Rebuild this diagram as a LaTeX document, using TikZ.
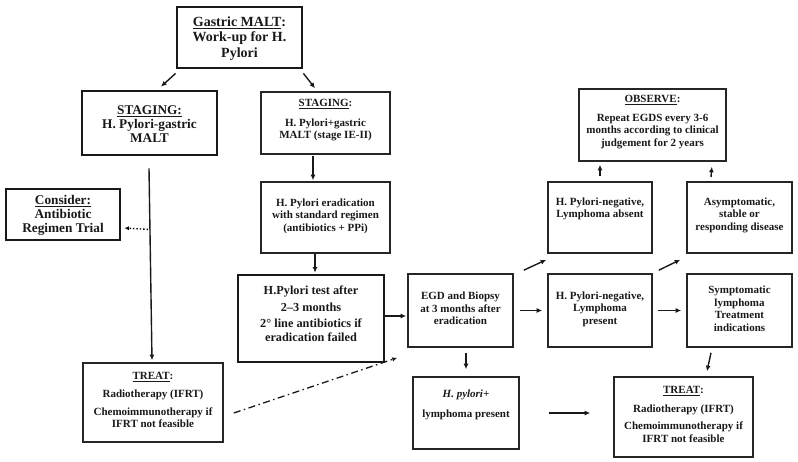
\documentclass[tikz,border=0pt]{standalone}
\usepackage{fontspec}
\setmainfont{Liberation Serif}
\usetikzlibrary{arrows.meta,calc}
\begin{document}
\begin{tikzpicture}[x=1pt,y=-1pt,
  thinbox/.style={draw=black!85, line width=1.6pt, inner sep=0pt},
  thickbox/.style={draw=black!90, line width=2.8pt, inner sep=0pt},
  txt/.style={align=center, inner sep=0pt, text=black!90},
  fbig/.style={font=\fontsize{14}{15.5}\selectfont\bfseries},
  fmid/.style={font=\fontsize{13.3}{14}\selectfont\bfseries},
  ftest/.style={font=\fontsize{12.3}{16.5}\selectfont\bfseries},
  fsmall/.style={font=\fontsize{11}{12.5}\selectfont\bfseries},
  arr/.style={line width=1.4pt, draw=black!90, -{Latex[length=5.5pt,width=5pt]}},
  ]
\useasboundingbox (0,0) rectangle (798,462);
% boxes
\node[thickbox, minimum width=125pt, minimum height=61pt] (g) at (239.5,37.5) {};
\node[thickbox, minimum width=135pt, minimum height=64pt] (sl) at (149.5,123) {};
\node[thinbox, minimum width=129pt, minimum height=62pt] (sr) at (325.5,123) {};
\node[thickbox, minimum width=114pt, minimum height=51pt] (co) at (63,214.5) {};
\node[thinbox, minimum width=129pt, minimum height=71pt] (er) at (325.5,217.5) {};
\node[thinbox, minimum width=140pt, minimum height=79pt] (tl) at (153,402.5) {};
\node[thickbox, minimum width=146pt, minimum height=87pt] (ht) at (311,318.5) {};
\node[thinbox, minimum width=105pt, minimum height=73pt] (egd) at (460.5,310.5) {};
\node[thinbox, minimum width=104pt, minimum height=71pt] (na) at (600,217.5) {};
\node[thinbox, minimum width=105pt, minimum height=71pt] (as) at (739.5,217.5) {};
\node[thinbox, minimum width=147pt, minimum height=72pt] (ob) at (652.5,125) {};
\node[thinbox, minimum width=104pt, minimum height=73pt] (lp) at (600,310.5) {};
\node[thinbox, minimum width=105pt, minimum height=73pt] (sy) at (739.5,310.5) {};
\node[thinbox, minimum width=106pt, minimum height=72pt] (hp) at (466,413) {};
\node[thinbox, minimum width=139pt, minimum height=80pt] (tr) at (683.5,417) {};
% texts
\node[txt, fbig] (gt) at (239.5,38.5) {\underline{Gastric MALT}:\\Work-up for H.\\Pylori};
\node[txt, fmid] (slt) at (149.5,124.5) {\underline{STAGING:}\\H. Pylori-gastric\\MALT};
\node[txt, fmid] (cot) at (63,215.5) {\underline{Consider:}\\Antibiotic\\Regimen Trial};
\node[txt, fsmall] (srt) at (325.5,120.5) {\underline{STAGING}:\\[7pt]H. Pylori+gastric\\MALT (stage IE-II)};
\node[txt, fsmall] (ert) at (325.5,216) {H. Pylori eradication\\with standard regimen\\(antibiotics + PPi)};
\node[txt, ftest] (htt) at (311,313.5) {H.Pylori test after\\2–3 months\\2° line antibiotics if\\[-3pt]eradication failed};
\node[txt, fsmall] (tlt) at (153,400) {\underline{TREAT}:\\[6pt]Radiotherapy (IFRT)\\[5pt]Chemoimmunotherapy if\\IFRT not feasible};
\node[txt, fsmall] (egdt) at (460.5,308.5) {EGD and Biopsy\\at 3 months after\\eradication};
\node[txt, fsmall] (nat) at (600,209) {H. Pylori-negative,\\Lymphoma absent};
\node[txt, fsmall] (ast) at (739.5,215) {Asymptomatic,\\stable or\\responding disease};
\node[txt, fsmall] (obt) at (652.5,122) {\underline{OBSERVE}:\\[6pt]Repeat EGDS every 3-6\\months according to clinical\\judgement for 2 years};
\node[txt, fsmall] (lpt) at (600,309) {H. Pylori-negative,\\Lymphoma\\present};
\node[txt, fsmall] (syt) at (739.5,308.5) {Symptomatic\\lymphoma\\Treatment\\indications};
\node[txt, fsmall] (hpt) at (466,405) {\textit{H. pylori+}\\[8pt]lymphoma present};
\node[txt, fsmall] (trt) at (683.5,414.5) {\underline{TREAT}:\\[6pt]Radiotherapy (IFRT)\\[5pt]Chemoimmunotherapy if\\IFRT not feasible};
% connectors
\draw[arr] ($(g.south west)+(0,4)$) -- ($(sl.north)+(11.5,-3)$);
\draw[arr] ($(g.south east)+(0,4)$) -- ($(sr.north)+(-10.5,-3)$);
\draw[arr] ($(sr.south)+(-12.5,1)$) -- ($(er.north)+(-12.5,-1)$);
\draw[arr] ($(er.south)+(-10.5,0)$) -- ($(ht.north)+(4,-1)$);
\draw[arr] ($(sl.south)+(-0.5,12)$) -- ($(tl.north)+(-1,-2)$);
\draw[line width=1.4pt, dotted, -{Latex[length=4.5pt,width=4pt]}] ($(sl.south)+(-1.5,73)$) -- ($(co.east)+(3,13.5)$);
\draw[arr] ($(ht.east)+(0,-2.5)$) -- ($(egd.west)+(-1,5.5)$);
\draw[line width=1.3pt, draw=black!90, dash pattern=on 7pt off 3.5pt on 1.5pt off 3.5pt, -{Latex[length=5pt,width=4.5pt]}] ($(tl.east)+(10,10.5)$) -- ($(egd.south west)+(-10,10)$);
\draw[arr] ($(egd.north east)+(10,-3)$) -- ($(na.south west)+(-1,6)$);
\draw[arr] ($(egd.east)+(6,0)$) -- ($(lp.west)+(-5,0)$);
\draw[arr] ($(lp.north east)+(6,-3)$) -- ($(as.south west)+(-6,6)$);
\draw[arr] ($(lp.east)+(5,0)$) -- ($(sy.west)+(-5,0)$);
\draw[arr] ($(na.north)+(0,-5)$) -- ($(ob.south)+(-52.5,3)$);
\draw[arr] ($(as.north)+(-28.5,-4)$) -- ($(ob.south east)+(-15,5)$);
\draw[arr] ($(egd.south)+(5.5,5)$) -- ($(hp.north)+(0,-7)$);
\draw[arr] ($(hp.east)+(29,0)$) -- ($(tr.west)+(-23,-4)$);
\draw[arr] ($(sy.south)+(-28.5,5)$) -- ($(tr.north)+(23.5,-5)$);
\end{tikzpicture}
\end{document}
